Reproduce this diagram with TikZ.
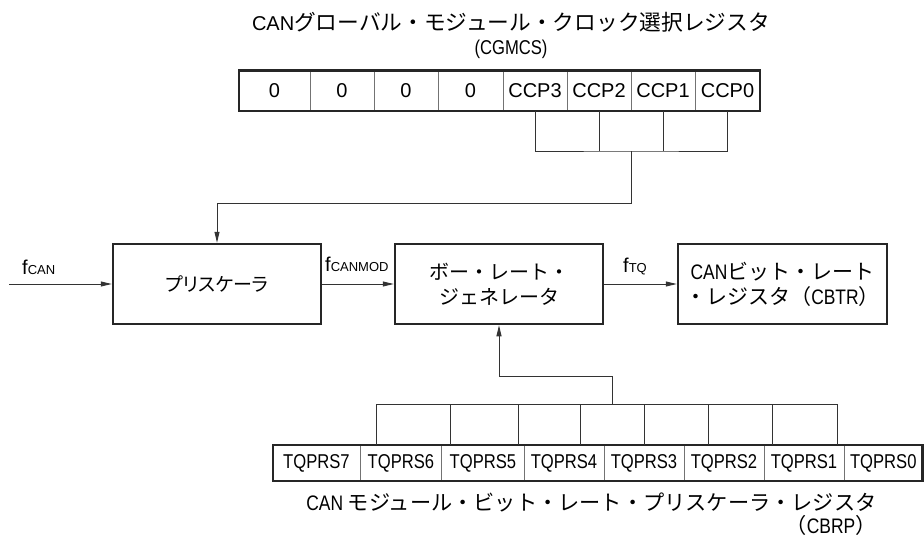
\documentclass[tikz,border=0pt]{standalone}
\usepackage{fontspec}
\setmainfont{Liberation Sans}
\newfontfamily\nar[FakeStretch=0.83]{Liberation Sans}
\newfontfamily\jp{Noto Sans CJK JP}
\newfontfamily\jpp[RawFeature=+palt]{Noto Sans CJK JP}
\usetikzlibrary{arrows.meta}

\newcommand\jtxt[2][21]{{\jp\fontsize{#1}{25}\selectfont #2}}
\newcommand\sig[1]{{\fontsize{13}{13}\selectfont #1}}

\begin{document}
\begin{tikzpicture}[x=1pt, y=-1pt,
    cell/.style={draw=black!55, line width=0.8pt, inner sep=0pt, outer sep=0pt},
    topcell/.style={cell, minimum height=40.5pt, font=\fontsize{20}{20}\selectfont},
    botcell/.style={cell, minimum height=36pt, font=\nar\fontsize{20}{20}\selectfont},
    block/.style={draw=black!85, line width=2.5pt, minimum width=208pt, minimum height=80pt, inner sep=0pt, align=center, font=\nar\fontsize{21}{25}\selectfont},
    conn/.style={draw=black!80, line width=1pt},
    arr/.style={conn, -{Triangle[length=11pt, width=5pt]}},
    lbl/.style={inner sep=0pt, anchor=base west, font=\fontsize{20}{20}\selectfont}]
    \useasboundingbox (0,0) rectangle (924,546);

    % register CGMCS
    \node[align=center, font=\fontsize{20}{24}\selectfont] (cgmcs) at (511,35) {CAN\jtxt[21.7]{グローバル・モジュール・クロック選択レジスタ}\\{\nar (CGMCS)}};
    \node[topcell, minimum width=71pt] (g7) at (274.5,90.5) {0};
    \node[topcell, minimum width=64pt] (g6) at (342,90.5) {0};
    \node[topcell, minimum width=64pt] (g5) at (406,90.5) {0};
    \node[topcell, minimum width=65pt] (g4) at (470.5,90.5) {0};
    \node[topcell, minimum width=64pt] (g3) at (535,90.5) {CCP3};
    \node[topcell, minimum width=64pt] (g2) at (599,90.5) {CCP2};
    \node[topcell, minimum width=64pt] (g1) at (663,90.5) {CCP1};
    \node[topcell, minimum width=65pt] (g0) at (727.5,90.5) {CCP0};
    \draw[draw=black!85, line width=2.5pt] (g7.north west) rectangle (g0.south east);

    % blocks
    \node[block] (pre) at (217,284) {{\jpp\fontsize{19}{25}\selectfont プリスケーラ}};
    \node[block] (baud) at (499,284) {\jtxt[20]{ボー・レート・}\\\jtxt[20]{ジェネレータ}};
    \node[block, minimum width=209pt] (cbtr) at (782.5,284) {CAN\jtxt{ビット・レート}\\\jtxt{・レジスタ（}CBTR\jtxt{）}};

    % register CBRP
    \node[botcell, minimum width=87.3pt] (b7) at (316.4,463) {TQPRS7};
    \node[botcell, minimum width=81.7pt] (b6) at (400.9,463) {TQPRS6};
    \node[botcell, minimum width=82.3pt] (b5) at (482.9,463) {TQPRS5};
    \node[botcell, minimum width=80pt] (b4) at (564,463) {TQPRS4};
    \node[botcell, minimum width=80pt] (b3) at (644,463) {TQPRS3};
    \node[botcell, minimum width=80pt] (b2) at (724,463) {TQPRS2};
    \node[botcell, minimum width=80pt] (b1) at (804,463) {TQPRS1};
    \node[botcell, minimum width=78.5pt] (b0) at (883.3,463) {TQPRS0};
    \draw[draw=black!85, line width=2.5pt] (b7.north west) rectangle (b0.south east);
    \node[anchor=east, align=right, font=\nar\fontsize{21}{23}\selectfont] (cbrp) at (880,514) {CAN \jtxt[21.2]{モジュール・ビット・レート・プリスケーラ・レジスタ}\\\jtxt[21.2]{（}CBRP\jtxt[21.2]{）}};

    % signals
    \coordinate (fin) at (9,284);
    \draw[arr] (fin) -- (pre.west);
    \draw[arr] (pre.east) -- (baud.west);
    \draw[arr] (baud.east) -- (cbtr.west);
    \node[lbl] (fcan) at (22,274) {f\sig{CAN}};
    \node[lbl] (fcanmod) at (325,271) {f\sig{CANMOD}};
    \node[lbl] (ftq) at (623,272) {f\sig{TQ}};

    % CCP bits to prescaler
    \coordinate (sel) at (631,151);
    \coordinate (selbend) at (631,203);
    \draw[conn] (g3.south) |- (sel) -| (g0.south);
    \draw[conn] (g2.south) -- (g2.south |- sel);
    \draw[conn] (g1.south) -- (g1.south |- sel);
    \draw[arr] (sel) -- (selbend) -| (pre.north);

    % TQPRS bits to baud rate generator
    \foreach \i/\x in {1/376,2/450,3/518,4/580,5/644,6/708,7/772,8/837}
        \coordinate (d\i) at (\x,404);
    \draw[conn] (d1) -- (d8);
    \foreach \i in {1,...,8}
        \draw[conn] (d\i) -- (d\i |- b7.north);
    \coordinate (bus) at (612,404);
    \coordinate (busbend) at (612,376);
    \draw[arr] (bus) -- (busbend) -| (baud.south);
\end{tikzpicture}
\end{document}
